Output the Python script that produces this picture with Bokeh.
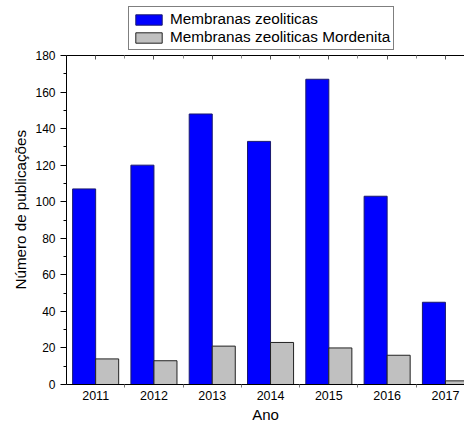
from bokeh.plotting import figure
from bokeh.layouts import column
from bokeh.models import (ColumnDataSource, Range1d, FixedTicker, LinearAxis,
                          Legend, LegendItem, Title)
from bokeh.transform import dodge
from bokeh.embed import file_html
from bokeh.resources import INLINE

years = [2011, 2012, 2013, 2014, 2015, 2016, 2017]
zeoliticas = [107, 120, 148, 133, 167, 103, 45]
mordenita = [14, 13, 21, 23, 20, 16, 2]
series_names = ["Membranas zeoliticas", "Membranas zeoliticas Mordenita"]
series_colors = ["#0000FF", "#C0C0C0"]
series_lines = ["#1a1a6e", "#222222"]

src = ColumnDataSource(dict(year=years, zeo=zeoliticas, mor=mordenita))

FONT = "Liberation Sans"
LEG_H = 50

# main chart
p = figure(width=464, height=425 - LEG_H, output_backend="svg", toolbar_location=None,
           x_range=Range1d(2010.5, 2017.327), y_range=Range1d(0, 180),
           min_border_left=66, min_border_right=0, min_border_top=5,
           min_border_bottom=40, x_axis_location="below")
p.outline_line_color = None
p.grid.visible = False
p.background_fill_color = "white"
p.border_fill_color = "white"

w = 0.395
r1 = p.vbar(x=dodge("year", -w / 2), top="zeo", width=w, bottom=0, source=src,
            fill_color=series_colors[0], line_color=series_lines[0], line_width=1)
r2 = p.vbar(x=dodge("year", w / 2), top="mor", width=w, bottom=0, source=src,
            fill_color=series_colors[1], line_color=series_lines[1], line_width=1)

# x axis (bottom)
xa = p.xaxis[0]
xa.ticker = FixedTicker(ticks=years,
                        minor_ticks=[y + 0.5 for y in years[:-1]])
xa.axis_label = "Ano"
xa.axis_label_text_font = FONT
xa.axis_label_text_font_style = "normal"
xa.axis_label_text_font_size = "15px"
xa.axis_label_text_color = "black"
xa.axis_label_standoff = 3
xa.major_label_text_font = FONT
xa.major_label_text_font_size = "12.5px"
xa.major_label_text_color = "black"
xa.major_label_standoff = 3
xa.major_tick_out = 0
xa.major_tick_in = 0
xa.minor_tick_out = 3
xa.minor_tick_in = 0
xa.minor_tick_line_color = "#777777"
xa.axis_line_color = "black"

# y axis (left); its title is added separately so it can sit off-centre
ya = p.yaxis[0]
ya.ticker = FixedTicker(ticks=list(range(0, 181, 20)),
                        minor_ticks=list(range(10, 180, 20)))
ya.major_label_text_font = FONT
ya.major_label_text_font_size = "12px"
ya.major_label_text_color = "black"
ya.major_label_standoff = 5
ya.major_tick_out = 6
ya.major_tick_in = 0
ya.minor_tick_out = 3
ya.minor_tick_in = 0
ya.axis_line_color = "black"
ya.major_tick_line_color = "black"
ya.minor_tick_line_color = "black"

p.add_layout(Title(text="Número de publicações", align="left", offset=95,
                   text_font=FONT, text_font_size="15.2px",
                   text_font_style="normal", text_color="black",
                   standoff=8), "left")

# top frame line with inward ticks
top = LinearAxis(ticker=FixedTicker(ticks=years,
                                    minor_ticks=[y + 0.5 for y in years[:-1]]),
                 major_label_text_font_size="0px", major_label_standoff=0,
                 major_tick_in=4, major_tick_out=0,
                 minor_tick_in=3, minor_tick_out=0,
                 axis_line_color="black", major_tick_line_color="#555555",
                 minor_tick_line_color="#888888")
p.add_layout(top, "above")

# legend strip above the chart
lp = figure(width=464, height=LEG_H, output_backend="svg", toolbar_location=None,
            x_range=Range1d(0, 1), y_range=Range1d(0, 1), min_border=0)
lp.axis.visible = False
lp.grid.visible = False
lp.outline_line_color = None
lp.border_fill_color = "white"
# swatch renderers: one bar each, kept outside the visible range
swatch_src = ColumnDataSource(dict(x=[-5], top=[0]))
sw = [lp.vbar(x="x", top="top", width=0.1, source=swatch_src,
              fill_color=c, line_color=lc, line_width=1)
      for c, lc in zip(series_colors, series_lines)]

legend = Legend(items=[LegendItem(label=n, renderers=[r])
                       for n, r in zip(series_names, sw)],
                location=(62, 0), orientation="vertical",
                glyph_width=33, glyph_height=13, label_standoff=5,
                label_text_font=FONT, label_text_font_size="15.3px",
                label_text_color="black", label_text_baseline="middle",
                label_height=14, spacing=0, padding=3, margin=0,
                border_line_color="black", border_line_width=1,
                background_fill_alpha=1.0)
lp.add_layout(legend, "center")

open("out.html", "w").write(file_html(column(lp, p, spacing=0), INLINE))
